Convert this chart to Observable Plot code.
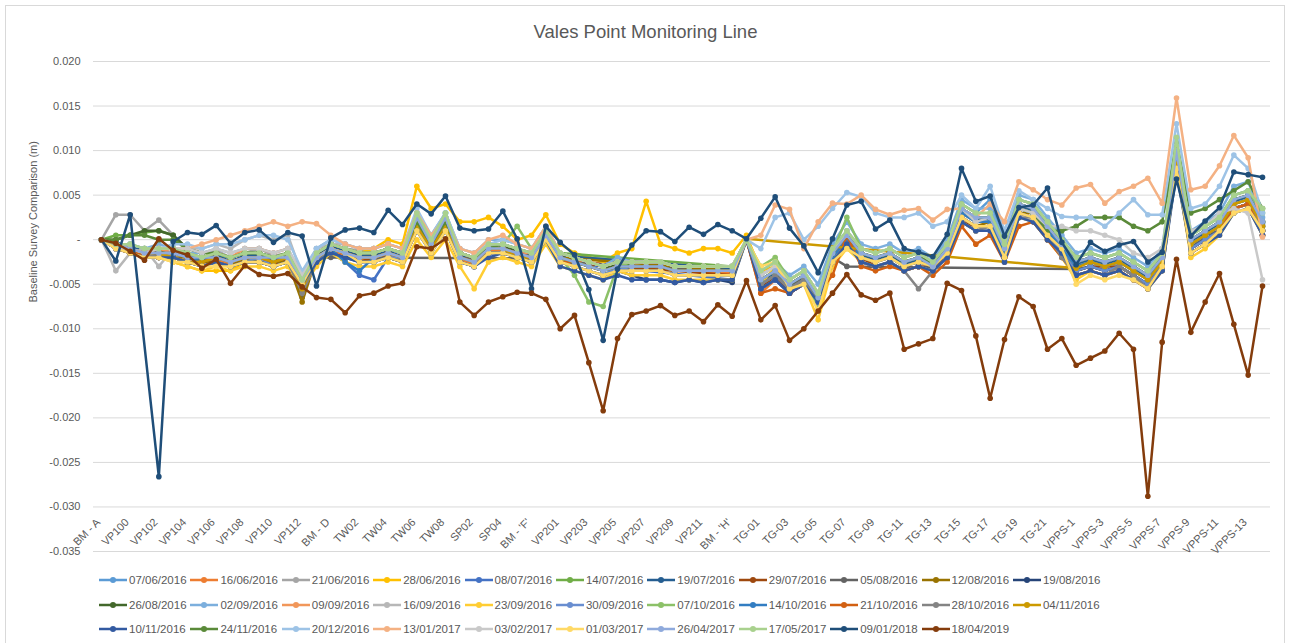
<!DOCTYPE html>
<html><head><meta charset="utf-8">
<script src="https://cdn.jsdelivr.net/npm/d3@7"></script>
<script src="https://cdn.jsdelivr.net/npm/@observablehq/plot@0.6"></script>
<style>
body{margin:0;background:#fff;font-family:"Liberation Sans",Arial,sans-serif;color:#595959;}
#wrap{position:relative;width:1291px;height:643px;overflow:hidden;}
#border{position:absolute;left:5px;top:5px;width:1280px;height:660px;border:1px solid #d9d9d9;box-sizing:border-box;}
#title{position:absolute;left:0;top:0;width:1291px;height:45px;text-align:center;font-size:18.5px;line-height:20px;padding-top:22px;box-sizing:border-box;}
#chart{position:absolute;left:0;top:45px;}
#legend{position:absolute;left:99px;top:568px;width:1010px;font-size:11.5px;display:flex;flex-wrap:wrap;}
.item{display:flex;align-items:center;width:91.4px;height:24.5px;white-space:nowrap;}
.item svg{margin-right:2px;}
</style></head><body>
<div id="wrap"><div id="border"></div><div id="title">Vales Point Monitoring Line</div><div id="chart"></div><div id="legend"></div></div>
<script>
const N = null;
const chartTitle = "Vales Point Monitoring Line";
const yTitle = "Baseline Survey Comparison (m)";
const categories = ["BM - A","BM - B","VP100","VP101","VP102","VP103","VP104","VP105","VP106","VP107","VP108","VP109","VP110","VP111","VP112","VP113","BM - D","TW01","TW02","TW03","TW04","TW05","TW06","TW07","TW08","SP01","SP02","SP03","SP04","SP05","BM - 'F'","BM - 'G'","VP201","VP202","VP203","VP204","VP205","VP206","VP207","VP208","VP209","VP210","VP211","VP212","BM - 'H'","BM - 'I'","TG-01","TG-02","TG-03","TG-04","TG-05","TG-06","TG-07","TG-08","TG-09","TG-10","TG-11","TG-12","TG-13","TG-14","TG-15","TG-16","TG-17","TG-18","TG-19","TG-20","TG-21","TG-22","VPPS-1","VPPS-2","VPPS-3","VPPS-4","VPPS-5","VPPS-6","VPPS-7","VPPS-8","VPPS-9","VPPS-10","VPPS-11","VPPS-12","VPPS-13","VPPS-14"];
const xTickLabels = ["BM - A","VP100","VP102","VP104","VP106","VP108","VP110","VP112","BM - D","TW02","TW04","TW06","TW08","SP02","SP04","BM - 'F'","VP201","VP203","VP205","VP207","VP209","VP211","BM - 'H'","TG-01","TG-03","TG-05","TG-07","TG-09","TG-11","TG-13","TG-15","TG-17","TG-19","TG-21","VPPS-1","VPPS-3","VPPS-5","VPPS-7","VPPS-9","VPPS-11","VPPS-13"];
const yTicks = [0.020,0.015,0.010,0.005,0,-0.005,-0.010,-0.015,-0.020,-0.025,-0.030,-0.035];
const seriesNames = ["07/06/2016","16/06/2016","21/06/2016","28/06/2016","08/07/2016","14/07/2016","19/07/2016","29/07/2016","05/08/2016","12/08/2016","19/08/2016","26/08/2016","02/09/2016","09/09/2016","16/09/2016","23/09/2016","30/09/2016","07/10/2016","14/10/2016","21/10/2016","28/10/2016","04/11/2016","10/11/2016","24/11/2016","20/12/2016","13/01/2017","03/02/2017","01/03/2017","26/04/2017","17/05/2017","09/01/2018","18/04/2019"];
const seriesColors = ["#5B9BD5","#ED7D31","#A5A5A5","#FFC000","#4472C4","#70AD47","#255E91","#9E480E","#636363","#997300","#264478","#43682B","#7CAFDD","#F1975A","#B7B7B7","#FFCD33","#698ED0","#8CC168","#327DC2","#D26012","#848484","#CC9A00","#335AA1","#5A8A39","#9DC3E6","#F4B183","#C9C9C9","#FFD966","#8FAADC","#A9D18E","#1F4E79","#843C0C"];

// values in millimetres
const s01 = [0,-0.3,-1.5,-1,-1.2,-1,-1.5,-2,-1.8,-2,
-1.5,-1.8,-2,-1.5,-4,-1.5,-0.5,-1,-1.5,-1.5,
-1,-1.5,3,0,3,-1.5,-2,-0.5,-0.5,-1,
-1.5,1,-1.5,-2,-2.5,-3,-2,-2.5,-2.5,-2.5,
-3,-3,-3,-3,-3,0,-4,-3,-4.5,-3.5,
-6,-1,1,-1,-1.5,-1,-2,-1.5,-2,-0.5,
4,3,4.5,-0.5,4.5,4,2,0,-2,-1.5,
-2,-1.5,-2.5,-3.5,-1.5,10,0.5,1.5,2.5,5,
5.5,2];
const s02 = [0,-0.8,-1.2,-1.8,-2,-2,-2.5,-3,-2.3,-2.8,
-2.3,-1.5,-2.8,-2.3,-5,-2.3,-1.2,-1.8,-2.2,-2.3,
-1.8,-2.2,1.5,-1,1.5,-2.3,-2.8,-1.3,-1.2,-1.8,
-2.3,0.2,-2.3,N,N,N,N,N,N,N,
N,N,N,N,-3.8,0,-6,-4.5,-6,-5,
-7.5,-2.5,-0.5,-2.5,-3,-2.5,-3.5,-3,-3.5,-2,
2.5,1.5,1.5,-2,3,2.5,0.5,-1.5,-3.5,-3,
-3.5,-3,-4,-5,-3,8,-1,0,1,3.5,
4,1];
const s03 = [0,2.8,2.8,1,2.2,0.5,-1,-1.5,-1.2,-2,
-1.5,-1,-1.8,-1.5,-5.5,-1.5,-0.5,-1,-1.2,-1.5,
-1,-1.5,2,-0.5,1.8,-1.5,-2,-0.5,-0.5,-1.2,
-1.8,1,-1.8,N,N,N,N,N,N,N,
N,N,N,N,-3.2,0,-4.5,-3.5,-5,-4,
-6.5,-1.5,0.5,-1.5,-2,-1.5,-2.5,-2,-2.5,-1,
3.5,2.5,2.5,-1,4,3.5,1.5,-0.5,-2.5,-2,
-2.5,-2,-3,-4,-2,9.5,0,1,2,4.5,
5,2];
const s04 = [0,-0.5,-1.5,-1,-1.5,-2.5,-3,-3.5,-3.5,-3.5,
-2.5,-2.5,-3,-2.5,-6,-1.5,-0.5,-1,-1.5,-1,
0,-0.5,6,3.5,4,2,2,2.5,1.5,0,
0.5,2.8,-0.5,-1.5,-2,-2.5,-1.5,-1,4.3,-0.5,
-1,-1.5,-1,-1,-1.5,0.5,-3.5,-3,-4.5,-3.5,
-6,-1.5,0.5,-1.5,-2,-1.5,-2.5,-2,-2.5,-1,
3,2,2.5,-1,3.5,3,1,-0.5,-3.5,-3,
-3.5,-3,-4,-5,-3,8,-1,0,1,3.5,
4,1];
const s05 = [0,-1,-1.5,-2,-2,-2,-2.5,-3,-2.5,-3,
-2.5,-2.5,-3,-2.5,-5,-2.5,-1.5,-2.5,-4,-4.5,
-2,-2.5,1,-1.5,1,-2.5,-3,-1.5,-1.5,-2,
-2.5,0,-2.5,N,N,N,N,N,N,N,
N,N,N,N,-4.5,0,-5.5,-4.5,-6,-5,
-7,-2.5,-0.5,-2.5,-3,-2.5,-3.5,-3,-3.5,-2,
2,1,1,-2.5,2.5,2,0,-1.5,-3.5,-3,
-3.5,-3,-4,-5,-3,8.5,-1,0,1,3.5,
4,1];
const s06 = [0,0.5,0.5,0.8,1,0.5,-1.5,-2,-1.5,-2,
-1.5,-1.5,-2,-1.5,-4.5,-1.5,-0.5,-1,-1.5,-1.5,
-1,-1.5,2.5,0,2.5,-1.5,-2,-0.5,-0.5,-1,
-1.5,1,-1.5,N,N,N,N,N,N,N,
N,N,N,N,-3,0,-4.5,-3.5,-5,-4,
-6.5,-1.5,0.5,-1.5,-2,-1.5,-2.5,-2,-2.5,-1,
3.5,2.5,2.5,-1,4,3.5,1.5,-0.5,-2.5,-2,
-2.5,-2,-3,-4,-2,11,0,1,2,4.5,
5,2];
const s07 = [0,-0.3,-0.8,-1.3,-1.2,-1.5,-1.8,-2.2,-1.8,-2.4,
-1.8,-1.7,-2.3,-1.9,-4.3,-1.8,-0.8,-1.2,-1.8,-1.7,
-1.3,-1.9,2.3,-0.3,2.2,-1.8,-2.3,-0.8,-0.7,-1.3,
-1.8,0.8,-1.8,N,N,N,N,N,N,N,
N,N,N,N,-3.3,0,-4.8,-3.8,-5.3,-4.3,
-6.8,-1.8,0.3,-1.8,-2.3,-1.8,-2.8,-2.3,-2.8,-1.3,
3.3,2.3,2.3,-1.3,3.8,3.3,1.3,-0.8,-2.8,-2.3,
-2.8,-2.3,-3.3,-4.3,-2.3,9.3,-0.3,0.8,1.8,4.3,
4.8,1.8];
const s08 = [0,-1,-1.5,-2,-1.5,-2,-2.5,-3,-2.5,-3,
-2.5,-2.5,-3,-2,-5,-2.5,-1,-1.5,-2.5,-2,
-2,-2.5,1,-1,1,-2.5,-3,-1.5,-1.5,-2,
-2.5,0,-2.5,N,N,N,N,N,N,N,
N,N,N,N,-4,0,-5.5,-4,-6,-5,
-7,-2.5,-0.5,-2,-3,-2.5,-3.5,-3,-3,-2,
2,1.5,1.5,-2,3,2.5,0.5,-1.5,-3.5,-3,
-3,-3,-4,-5,-3,8,-1,0,1,3.5,
4,1];
const s09 = [0,-1,-1,-1.5,-1.5,-1.5,-2,-2.5,-2,-2.5,
-2,-2,-2.5,-2,-6.5,-2,-2,N,N,N,
N,N,N,N,N,N,N,N,N,N,
-2.1,0,-2.5,N,N,N,N,N,N,N,
N,N,N,N,-3.5,0,-5,-4,-5,-4.5,
-7,-2,-3,N,N,N,N,N,N,N,
N,N,N,N,N,N,N,N,-3.3,-3,
-3.5,-3,-4,-5,-3,8,-1,0.5,1,3.5,
4,1];
const s10 = [0,-0.5,-1,-1.5,-1,-2,-2,-2.5,-2.5,-3,
-2,-2.5,-2.5,-2.5,-7,-2,-1,-1.5,-2,-2,
-1.5,-2,1.5,-0.5,1.5,-2,-2.5,-1,-1,-2,
-2,0.5,-2,N,N,N,N,N,N,N,
N,N,N,N,-3.5,0,-5,-4,-5.5,-4.5,
-7,-2,0,-2,-2.5,-2,-3,-2.5,-3,-1.5,
2.5,1.5,2,-1.5,3,3,1,-1,-3,-2.5,
-3,-2.5,-3.5,-4.5,-2.5,8.5,-0.5,0.5,1.5,4,
4.5,1.5];
const s11 = [0,-0.5,-1.5,-1.5,-2,-2,-2.5,-3,-2.5,-3,
-2.5,-2.5,-3,-2.5,-5,-2.5,-1.5,-2,-2.5,-2.5,
-2,-2.5,1.5,-1,1.5,-2.5,-3,-1.5,-1.5,-2,
-2.5,0,-2.5,-3,-3.5,-4,-3.5,-4,-4.5,-4.5,
-4.8,-4.5,-4.8,-4.5,-4.8,0,-5.5,-4.5,-6,-5,
-7.5,-2.5,-0.5,-2.5,-3,-2.5,-3.5,-3,-3.5,-2,
2.5,1.5,1.5,-2,3,2.5,0.5,-1.5,-3.5,-3,
-3.5,-3,-4,-5,-3,8.5,-1,0,1,3.5,
4,1];
const s12 = [0,0,0.5,1,1,0.5,-1,-1.5,-1.5,-2,
-1.5,-1.5,-2,-1.5,-5,-1.5,-0.5,-1,-1.5,-1.5,
-1,-1.5,2,-0.5,2,-1.5,-2,-1,-0.5,-1.5,
-1.5,0.5,-2,-2.5,-3,-3.5,-2.5,-3,-3,-3,
-3.5,-3.5,-3.5,-3.5,-3.5,0,-4.5,-3.5,-5,-4,
-6.5,-1.5,0.5,-1.5,-2,-1.5,-2.5,-2,-2.5,-1,
3.5,2.5,2.5,-1,4,3.5,1.5,-0.5,-2.5,-2,
-2.5,-2,-3,-4,-2,9.5,0,1,2,4.5,
5,2];
const s13 = [0,-0.5,-0.5,-1,-0.5,-1,-1.5,-1.5,-1,-1.5,
-1,-1,-1.5,-1,-4,-1,0,-0.5,-1,-1,
-0.5,-1,3,0.5,3,-1,-1.5,0,0,-0.5,
-1,1.5,-1.5,-2,-2.5,-3,-2,-2.5,-2.5,-2.5,
-3,-3,-3,-3,-3,0,-3.5,-2.5,-4,-3,
-5,-0.5,2,-0.5,-1,-0.5,-1.5,-1,-2,0,
4.5,3.5,3.5,0,5,4.5,2.5,0.5,-1.5,-1,
-1.5,-1,-2,-3,-1,11,1,2,3,6,
6.5,2.5];
const s14 = [0,-0.5,-1,-1.5,-1,-1.5,-1.5,-2,-1.5,-2,
-1,-1,-1.5,-1,-4.5,-1.5,-0.5,-1,-1.5,-1.5,
-1,-1.5,1.5,-0.5,1.5,-1.5,-2,-1,-1,-1.5,
-1.5,0.5,-2,-2.5,-3,-3.5,-3,-3,-3,-3,
-3.5,-3.5,-3.5,-3.5,-3.5,0,-5,-4,-5.5,-4.5,
-7,-2,0,-2,-2.5,-2,-3,-2.5,-3,-1.5,
2.5,1.5,1.5,-2,3,2.5,0.5,-1.5,-4,-3.5,
-4,-3.5,-4.5,-5.5,-3.5,9,-1.5,-0.5,1,3.5,
4,0.5];
const s15 = [0,-3.5,-1.5,-1,-3,-1,-1,-1,-0.5,-1,
0,0.5,0,0.5,-4,-1,-0.5,-0.5,-1,-1,
-0.5,-1,2,0,2,-1.5,-2,-1,-0.5,-1,
-1.5,1,-1.5,-2,-2.5,-3,-2.5,-2.5,-2.5,-2.5,
-3,-3,-3,-3,-3,0,-4,-3,-4.5,-3.5,
-6,-1.5,0.5,-1.5,-2,-1.5,-2.5,-2,-2.5,-1,
3,2,2,-1,3.5,3,1,-1,-3,-2.5,
-3,-2.5,-3.5,-4.5,-2.5,9,-0.5,0.5,1.5,4,
4.5,1.5];
const s16 = [0,-1,-1.5,-2,-2,-2.5,-3,-3.5,-3,-3.5,
-3,-3,-3.5,-3,-5.5,-3,-1.5,-2.5,-3,-3,
-2.5,-3,0,-2,0,-3,-5.5,-2.5,-2,-2.5,
-3,-0.5,-3,-3.5,-4,-4.5,-3.5,-4,-4,-4,
-4.5,-4.5,-4.5,-4.5,-4.5,0,-5,-3,-5.5,-5,
-9,-3,-1,-2.5,-3,-2.5,-3.5,-3,-3.5,-2,
2,1,1.5,-2,2.5,2,0,-2,-4.5,-3.5,
-4,-3.5,-4.5,-5.5,-3.5,8,-2,-1,0.5,3,
3.5,0.5];
const s17 = [0,-1,-1,-1.5,-1.5,-2,-2.5,-3,-2.5,-3,
-2.5,-2,-3,-2.5,-5,-2.5,-1,-1.5,-2.5,-2.5,
-2,-2,1.5,-1,1.5,-2.5,-3,-1.5,-1.5,-2,
-2.5,0,-2.5,-3,-3.5,-4,-3,-3.5,-3.5,-3.5,
-4,-4,-4,-4,-4,0,-5.5,-4.5,-6,-5,
-7.5,-2.5,-0.5,-2.5,-3,-2.5,-3.5,-3,-3.5,-2,
2.5,1.5,1.5,-2,3,2.5,0.5,-1.5,-3.5,-3,
-3.5,-3,-4,-5,-3,8.5,-1,0,1,3.5,
4,1];
const s18 = [0,-0.5,-0.5,-1,-1,-1,-1.5,-2,-1.5,-2,
-1.5,-1.5,-2,-1.5,-5,-1.5,-0.5,-1,-1.5,-1.5,
-1,-1.5,2.5,0,2.5,-1.5,-2,-0.5,-0.5,1.5,
-1,0.5,-2,-4,-7,-7.5,-3,-2.5,-2.5,-2.5,
-3,-3,-3,-3,-3,0,-3,-2,-4.5,-3.5,
-8,-1.5,2.5,-1,-1.5,-1,-2,-1.5,-2.5,-0.5,
4,3,3,-0.5,4.5,4,2,0,-2,-1.5,
-2,-1.5,-2.5,-3.5,-1.5,10,0.5,1.5,2.5,5,
5.5,3];
const s19 = [0,-0.5,-1,-1.5,-1.5,-1.5,-2,-2.5,-2,-2.5,
-2,-2,-2.5,-2,-4.5,-2,-1,-2.5,-3.5,-2,
-1.5,-2,2,-0.5,2,-2,-2.5,-1,-1,-1.5,
-2,0.5,-2,-2.5,-3,-3.5,-3,-3,-3,-3,
-3.5,-3.5,-3.5,-3.5,-3.5,0,-5,-4,-5.5,-4.5,
-7,-2,0,-2,-2.5,-2,-3,-2.5,-3,-1.5,
3,2,2,-1.5,3.5,3,1,-1,-3,-2.5,
-3,-2.5,-3.5,-4.5,-2.5,9,-0.5,0.5,1.5,4,
4.5,1.5];
const s20 = [0,-1,-1.5,-1.5,-2,-2,-2.5,-2.5,-2,-2.5,
-2,-2,-2.5,-2,-5,-2,-1,-1.5,-2,-2,
-1.5,-2,1.5,-1,1.5,-2,-2.5,-1,-1,-1.5,
-2,0,-2.5,-2.5,-3,-3.5,-3,-3,-3,-3,
-3.5,-3.5,-3.5,-3.5,-3.5,0,-6,-5.5,-6,-5,
-6,-4,0.5,-3,-3.5,-3,-3.5,-3,-4,-2.5,
1.5,-0.5,0.5,-2.5,1.5,2,0,-2,-4,-3.5,
-4,-3.5,-4.5,-5.5,-3,8,-1.5,-0.5,1,3.5,
4,0.5];
const s21 = [0,-1,-1,-1.5,-2,-2,-2.5,-3,-2.5,-3,
-2.5,-2.5,-3,-2.5,-6,-2.5,-1,-1.5,-2,-2,
-1.5,-2,1,-1,1,-2,-2.5,-1.5,-1.5,-2,
-2.5,0,-2.5,-3,-3.5,-4,-3.5,-3.5,-3.5,-3.5,
-4,-4,-4,-4,-4,0,-5,-4,-5.5,-4.5,
-7,-2.5,-0.5,-2.5,-3,-2.5,-3.5,-5.5,-3.5,-2,
2,1,1.5,-2.5,2.5,2.5,0.5,-2,-4,-3.5,
-4,-3,-4,-5.5,-3.5,8,-1.5,-0.5,1,3,
3.5,0.5];
const s22 = [0,-0.5,-1,-1.5,-1.5,-2,-2.5,-2.5,-2,-2.5,
-2,-2,-2.5,-2,-5.5,-2,-1,-1.5,-2,-2,
-1.5,-2,1.5,-1,1.5,-2,-2.5,-1,-1,-2,
-2,0.5,-2,-2.5,-3,-3.5,-3,-3,-3,-3,
-3.5,-3.5,-3.5,-3.5,-3.5,0.1,N,N,N,N,
N,N,N,N,N,N,N,N,N,N,
N,N,N,N,N,N,N,N,-3.2,-2.5,
-3,-2.5,-3.5,-4.5,-2.5,8.5,-0.5,0.5,1.5,4,
4.5,1.5];
const s23 = [0,-1,-1.5,-2,-2,-2,-2.5,-3,-2.5,-3,
-2.5,-2.5,-3,-2.5,-5,-2.5,-1.5,-2,-2.5,-2.5,
-2,-2.5,1,-1.5,1,-2.5,-3,-2,-1.5,-2,
-2.5,0,-3,-3.5,-4,-4.5,-4,-4.5,-4.5,-4.5,
-4.8,-4.5,-4.8,-4.5,-4.5,0,-5.5,-4.5,-6,-5,
-7,-2.5,-0.5,-2.5,-3,-2.5,-3.5,-3,-3.5,-2,
2,1,1,-2.5,2.5,2,0,-1.5,-4,-3.5,
-4,-3.5,-4.5,-5.5,-3.5,7.5,-1.5,-0.5,0.5,3,
3.5,0.5];
const s24 = [0,0,0.5,0.5,0,0,-1,-1.5,-1.5,-2,
-1.5,-1.5,-2,-1.5,-4.5,-1.5,-0.5,-1,-1.5,-1.5,
-1,-1.5,2,-0.5,2,-1.5,-2,-1,-0.5,-1,
-1.5,0.5,-2,-2.5,-3,-3.5,-3,-3,-3,-3,
-3.5,-3.5,-3.5,-3.5,-3.5,0,-4.5,-3.5,-5,-4,
-6.5,-1.5,0.5,-1.5,-2,-1.5,-2.5,-2,-2.5,-1,
3.5,2.5,2.5,-1,3.5,3,1,1,1.5,2.5,
2.5,2.5,1.5,1,2,11,3,3.5,4.5,5.5,
6.5,3.5];
const s25 = [0,-0.5,-0.5,-1,-1,-0.5,-0.5,-1,-0.5,-0.5,
0,0.5,0.5,0,-3.5,-1,0,-0.5,-1,-1,
-0.5,-1,3.5,0.5,3,-1,-1.5,-0.5,0,-0.5,
-1,1.5,-1.5,-2,-2.5,-3,-2.5,-2.5,-2.5,-2.5,
-3,-3,-3,-3,-3,0,-1,2.5,3,0,
1.5,3.5,5.3,4.8,3,2.5,2.5,3,1.5,2,
5,3.5,6,1,5.5,4.5,3.5,2.6,2.5,2.5,
1.5,3,4.5,2.8,2.8,13,3.5,4,6,9.5,
8,3];
const s26 = [0,-0.5,-1,-1.5,-1,-1,-1,-0.5,0,0.5,
1,1.5,2,1.5,2,1.8,0.5,-0.5,-1,-1,
-0.5,-1,3,0.5,2.5,-1,-1.5,0,0.5,-0.5,
-1,1.5,-1.5,-2,-2.5,-3,-2.5,-2.5,-2.5,-2.5,
-3,-3,-3,-3,-3,0,0.5,3.9,3.4,-1,
2,4.1,4,5,3.4,2.8,3.3,3.5,2.2,3.4,
3.5,2.5,4,2,6.5,5.6,4.5,3.9,5.8,6.2,
4.1,5.4,6,6.9,4.1,15.9,5.6,6,8.3,11.7,
9.2,0.3];
const s27 = [0,-1,-1,-1.5,-1,-1,-1,-1.5,-1,-1.5,
-1,-1,-1.5,-1,-4,-1.5,-0.5,-1,-1.5,-1.5,
-1,-1.5,2.5,0,2.5,-1.5,-2,-0.5,-0.5,-1,
-1.5,1,-1.5,-2,-2.5,-3,-2.5,-2.5,-2.5,-2.5,
-3,-3,-3,-3,-3,0,-4,-3,-4.5,-3.5,
-6,-1.5,1,-1,-1.5,-1,-2,-1.5,-2.5,-0.5,
3.5,2,2.5,-0.5,3.5,3,1.5,1.5,1,1,
0.5,0,-1.5,-2,-1,10,1,1.5,3,3.5,
3,-4.5];
const s28 = [0,-1,-1.5,-2,-2,-2.5,-2.5,-3,-3,-3,
-2.5,-2.5,-3,-2.5,-5,-2,-1,-1.5,-2.5,-2.5,
-2,-2.5,1,-1.5,1,-2.5,-3,-1.5,-1.5,-2,
-2.5,0,-2.5,-3,-3.5,-4,-3.5,-3.5,-3.5,-3.5,
-4,-4,-4,-4,-4,0,-3,-2.5,-5.5,-5,
-8,-2.5,-1,-2,-2.5,-2,-3,-2.5,-3,-1.5,
2.5,1.5,1.5,-2,3,2.5,0.5,-1,-5,-4,
-4.5,-4,-4.5,-5.5,-3,8,-1.5,-0.5,1,3,
3.5,1];
const s29 = [0,-0.5,-1,-1.5,-1.5,-1.5,-2,-2,-2,-2.5,
-2,-2,-2,-2,-4.5,-2,-1,-1.5,-2,-2,
-1.5,-2,2.5,-0.5,2.5,-2,-2.5,-1,-1,-1.5,
-2,0.5,-2,-2.5,-3,-3.5,-3,-3,-3,-3,
-3.5,-3.5,-3.5,-3.5,-3.5,0,-4.5,-3.5,-5,-4,
-6.5,-1.5,0.5,-1.5,-2,-1.5,-2.5,-2,-3,-1,
3.5,2.5,2.5,-1,4,3.5,1.5,-0.5,-2.5,-2,
-2.5,-2,-3,-4,-2,10,0,1,2,4.5,
5,2];
const s30 = [0,-0.5,-0.5,-1,-1,-1,-1.5,-2,-1.5,-2,
-1.5,-1.5,-2,-1.5,-4.5,-1.5,-0.5,-1,-1.5,-1.5,
-1,-1.5,3,0,3,-1.5,-2,-0.5,-0.5,-1,
-1.5,1,-1.5,-2,-2.5,-3,-2.5,-2.5,-2.5,-2.5,
-3,-3,-3,-3,-3,0,-3.5,-2.5,-4.5,-3.5,
-6,-1,1,-1,-1.5,-1,-2,-1.5,-2.5,-0.5,
4,3,3,-0.5,4.5,4,2,0,-2,-1.5,
-2,-1.5,-2.5,-3.5,-1.5,11.5,0.5,1.5,2.5,5,
5.5,3.5];
const s31 = [0,-2.4,2.8,N,-26.6,-0.2,0.8,0.6,1.6,-0.4,
0.8,1.1,-0.3,0.8,0.4,-5.2,0.2,1.1,1.3,0.8,
3.3,1.7,4,2.9,4.9,1.3,1,1.2,3.2,0.1,
-5.5,1.5,-0.3,-1.7,-5.6,-11.3,-3.3,-0.6,1,0.9,
-0.2,1.4,0.6,1.7,1,0.1,2.4,4.8,1.3,-0.7,
-3.7,0.1,3.9,4.3,1.2,2.2,-1,-1.4,-1.9,0.6,
8,4.3,4.9,0.4,3.6,3.9,5.8,-0.3,-2.8,-0.3,
-1.3,-0.6,-0.2,-2.5,-1.4,6.8,0.4,2.1,3.6,7.6,
7.3,7];
const s32 = [0,-0.4,-1.3,-2.3,0.1,-1.2,-1.7,-3.2,-2.2,-4.9,
-2.9,-3.9,-4.1,-3.8,-5.3,-6.5,-6.7,-8.2,-6.3,-6,
-5.2,-4.9,-0.8,-1,0.1,-7,-8.5,-7,-6.4,-5.9,
-6,-6.7,-10,-8.5,-13.8,-19.2,-11.1,-8.4,-8,-7.4,
-8.5,-8,-9.2,-7.3,-8.6,-4.6,-9,-7.4,-11.3,-10,
-8,-6,-3.9,-6.2,-6.8,-6,-12.3,-11.7,-11.1,-4.9,
-5.7,-10.8,-17.8,-11.2,-6.4,-7.5,-12.3,-11.1,-14.1,-13.3,
-12.5,-10.5,-12.3,-28.8,-11.5,-2.2,-10.4,-7,-3.8,-9.5,
-15.2,-5.2];

const seriesValues = [s01,s02,s03,s04,s05,s06,s07,s08,s09,s10,s11,s12,s13,s14,s15,s16,s17,s18,s19,s20,s21,s22,s23,s24,s25,s26,s27,s28,s29,s30,s31,s32];
seriesValues.forEach((a,k)=>{ if (a.length !== categories.length) throw new Error("series " + (k+1) + " has " + a.length + " values"); });

// build table (mm -> m)
const rows = [];
seriesNames.forEach((name,k) => seriesValues[k].forEach((v,i) => { if (v !== null) rows.push({series: name, cat: categories[i], v: v / 1000}); }));

const seriesMarks = seriesNames.flatMap((name,k) => {
  const d = rows.filter(r => r.series === name);
  return [
    Plot.line(d, {x: "cat", y: "v", stroke: seriesColors[k], strokeWidth: 2.5}),
    Plot.dot(d, {x: "cat", y: "v", r: 2.8, fill: seriesColors[k], stroke: "none"})
  ];
});

const chart = Plot.plot({
  width: 1291, height: 516,
  marginLeft: 93, marginRight: 21, marginTop: 16, marginBottom: 10,
  style: {fontFamily: "'Liberation Sans', Arial, sans-serif", fontSize: "11px", color: "#595959", background: "transparent", overflow: "visible"},
  x: {type: "point", domain: categories, range: [101, 1262], padding: 0, round: false},
  y: {domain: [-0.035, 0.020]},
  marks: [
    Plot.ruleY(yTicks, {stroke: "#d9d9d9", strokeWidth: 1}),
    Plot.axisY(yTicks, {tickSize: 0, tickPadding: 13, tickFormat: d => d === 0 ? "-" : d.toFixed(3), label: null}),
    Plot.axisX(xTickLabels, {anchor: "bottom", tickSize: 0, tickPadding: 0, tickRotate: -45, dy: -31, dx: -3, label: null}),
    Plot.text([yTitle], {frameAnchor: "left", rotate: -90, dx: -60, dy: -4, fontSize: 11, fill: "#595959"}),
    ...seriesMarks
  ]
});
document.getElementById("chart").appendChild(chart);

const legend = document.getElementById("legend");
seriesNames.forEach((name,k) => {
  const item = document.createElement("div");
  item.className = "item";
  item.innerHTML = `<svg width="28" height="10"><line x1="0" y1="5" x2="28" y2="5" stroke="${seriesColors[k]}" stroke-width="2.5"/><circle cx="14" cy="5" r="3" fill="${seriesColors[k]}"/></svg><span>${name}</span>`;
  legend.appendChild(item);
});
</script>
</body></html>
